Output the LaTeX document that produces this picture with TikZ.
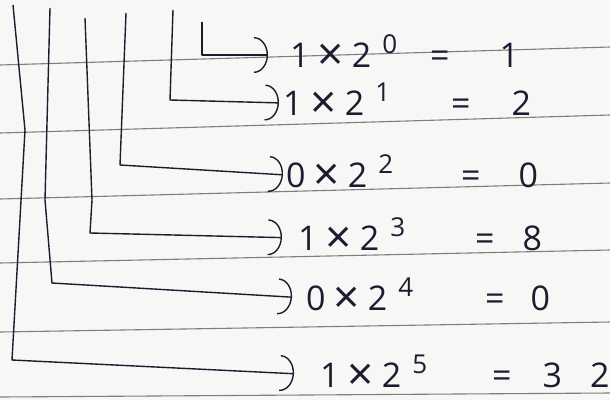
\documentclass[tikz,border=0pt]{standalone}
\usepackage{fontspec}
\setmainfont{Open Sans}
\usetikzlibrary{arrows.meta}
\definecolor{inkc}{HTML}{1C1C30}
\definecolor{rulec}{HTML}{7E7E7E}
\definecolor{paper}{HTML}{F7F7F5}
\newcommand{\bexp}[5]{#1\hspace{8pt}\raisebox{-3.5pt}{\scalebox{1.35}{×}}\hspace{8pt}2\hspace{11pt}\raisebox{14pt}{\fontsize{26}{26}\selectfont #2}\hspace{#4}=\hspace{#5}#3}
\begin{document}
\begin{tikzpicture}[x=1pt,y=-1pt,
  ink/.style={draw=inkc, line width=1.4pt, line join=round, -{Arc Barb[length=14pt,width=36pt,line width=1.4pt]}},
  rule/.style={draw=rulec, line width=1.1pt},
  eqn/.style={anchor=west, inner sep=0pt, text=inkc, text height=24pt, text depth=0pt, font=\fontsize{34}{40}\selectfont}]
\path[fill=paper] (0,0) rectangle (610,400);
\useasboundingbox (0,0) rectangle (610,400);
\foreach \a/\b in {65/47,133/115,199/183,263/250,332/322,397/393}
  \draw[rule] (0,\a) -- (610,\b);
% equations
\node[eqn] (e0) at (290,55)  {\bexp{1}{0}{1}{33pt}{50pt}};
\node[eqn] (e1) at (283,103) {\bexp{1}{1}{2}{61pt}{41pt}};
\node[eqn] (e2) at (286,175) {\bexp{0}{2}{0}{68pt}{38pt}};
\node[eqn] (e3) at (298,238) {\bexp{1}{3}{8}{70pt}{28pt}};
\node[eqn] (e4) at (306,298) {\bexp{0}{4}{0}{72pt}{26pt}};
\node[eqn] (e5) at (320,375) {\bexp{1}{5}{3\hspace{28pt}2}{65pt}{31pt}};
% stroke points
\coordinate (t0) at (202,22);  \coordinate (c0) at (202,55);
\coordinate (t1) at (173,10);  \coordinate (c1) at (170,100);
\coordinate (t2) at (126,13);  \coordinate (c2) at (120,165);
\coordinate (t3) at (85,18);   \coordinate (m3) at (92,200);  \coordinate (c3) at (90,233);
\coordinate (t4) at (50,8);    \coordinate (m4) at (45,200);  \coordinate (c4) at (52,283);
\coordinate (t5) at (13,5);    \coordinate (m5) at (25,130);  \coordinate (c5) at (12,360);
% connectors
\draw[ink, shorten >=22pt] (t0) -- (c0) -- (e0.west);
\draw[ink, shorten >=4pt]  (t1) -- (c1) -- (e1.west);
\draw[ink, shorten >=3pt]  (t2) -- (c2) -- (e2.west);
\draw[ink, shorten >=16pt] (t3) -- (m3) -- (c3) -- (e3.west);
\draw[ink, shorten >=14pt] (t4) -- (m4) -- (c4) -- (e4.west);
\draw[ink, shorten >=26pt] (t5) -- (m5) -- (c5) -- (e5.west);
\end{tikzpicture}
\end{document}
